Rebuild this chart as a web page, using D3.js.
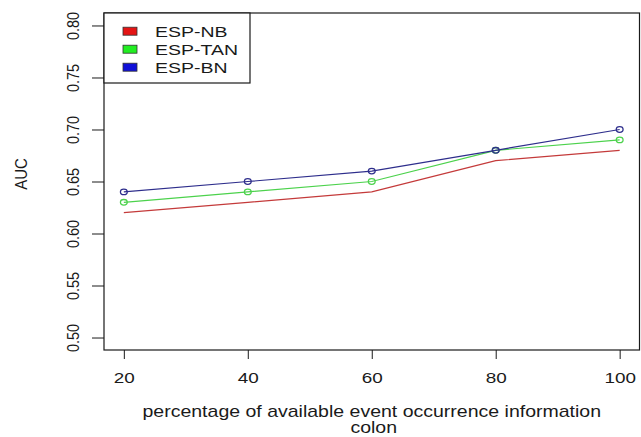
<!DOCTYPE html>
<html>
<head>
<meta charset="utf-8">
<script src="https://cdn.jsdelivr.net/npm/d3@7"></script>
<style>
  html, body { margin: 0; padding: 0; background: #fff; }
  svg { display: block; font-family: "Liberation Sans", Arial, sans-serif; }
</style>
</head>
<body>
<svg id="chart" width="641" height="437"></svg>
<script>
// Data
const percentages = [20, 40, 60, 80, 100];
const espNB = [0.62, 0.63, 0.64, 0.67, 0.68];
const espTAN = [0.63, 0.64, 0.65, 0.68, 0.69];
const espBN = [0.64, 0.65, 0.66, 0.68, 0.70];
const xTicks = [20, 40, 60, 80, 100];
const yTicks = [0.50, 0.55, 0.60, 0.65, 0.70, 0.75, 0.80];
const seriesNames = ["ESP-NB", "ESP-TAN", "ESP-BN"];

// Styling config
const CONFIG = {
  box: { left: 104, right: 639.5, top: 13, bottom: 350 },
  stretch: 1.22, // glyphs are drawn a bit wide
  ink: "#1a1a1a",
  series: [
    { name: seriesNames[0], values: espNB, line: "#c43a3a", fill: "#e41414", points: false },
    { name: seriesNames[1], values: espTAN, line: "#4cd24c", fill: "#22ee22", points: true },
    { name: seriesNames[2], values: espBN, line: "#2e2e8c", fill: "#1010d8", points: true },
  ],
};

const svg = d3.select("#chart");
const box = CONFIG.box;

svg.append("rect").attr("width", 641).attr("height", 437).attr("fill", "#fff");

// R-style 4% padding around the data range
const x = d3.scaleLinear().domain([16.8, 103.2]).range([box.left, box.right]);
const y = d3.scaleLinear().domain([0.488, 0.812]).range([box.bottom, box.top]);

// X axis
const xAxis = svg.append("g")
  .attr("transform", `translate(0,${box.bottom})`)
  .call(d3.axisBottom(x).tickValues(xTicks).tickSize(9).tickSizeOuter(0).tickFormat(d3.format("d")));
xAxis.select(".domain").remove();
xAxis.selectAll(".tick line").attr("stroke", CONFIG.ink);
xAxis.selectAll(".tick text")
  .attr("y", null).attr("dy", null)
  .attr("fill", CONFIG.ink)
  .attr("font-size", 15.5)
  .attr("transform", `translate(0,32.5) scale(${CONFIG.stretch},1)`);

// Y axis
const yAxis = svg.append("g")
  .attr("transform", `translate(${box.left},0)`)
  .call(d3.axisLeft(y).tickValues(yTicks).tickSize(12).tickSizeOuter(0).tickFormat(d3.format(".2f")));
yAxis.select(".domain").remove();
yAxis.selectAll(".tick line").attr("stroke", CONFIG.ink);
yAxis.selectAll(".tick text")
  .attr("x", null).attr("dy", null)
  .attr("fill", CONFIG.ink)
  .attr("font-size", 14.5)
  .attr("text-anchor", "middle")
  .attr("transform", "translate(-25,0) rotate(-90) scale(1,1.08)");

// Axis titles
svg.append("text")
  .attr("transform", `translate(26.5,174) rotate(-90) scale(1,1.1)`)
  .attr("text-anchor", "middle")
  .attr("font-size", 15)
  .attr("fill", CONFIG.ink)
  .text("AUC");

const xTitle = svg.append("g").attr("transform", `translate(${(box.left + box.right) / 2},0)`);
xTitle.append("text")
  .attr("transform", `translate(0,416.5) scale(${CONFIG.stretch},1)`)
  .attr("text-anchor", "middle")
  .attr("font-size", 16)
  .attr("fill", CONFIG.ink)
  .text("percentage of available event occurrence information");
xTitle.append("text")
  .attr("transform", `translate(2,433) scale(${CONFIG.stretch},1)`)
  .attr("text-anchor", "middle")
  .attr("font-size", 16)
  .attr("fill", CONFIG.ink)
  .text("colon");

// Series lines and points
const line = d3.line()
  .x((d, i) => x(percentages[i]))
  .y((d) => y(d));

CONFIG.series.forEach((s) => {
  svg.append("path")
    .datum(s.values)
    .attr("d", line)
    .attr("fill", "none")
    .attr("stroke", s.line)
    .attr("stroke-width", 1.2);

  if (s.points) {
    svg.selectAll(null)
      .data(s.values)
      .join("ellipse")
      .attr("cx", (d, i) => x(percentages[i]))
      .attr("cy", (d) => y(d))
      .attr("rx", 3.4)
      .attr("ry", 2.8)
      .attr("fill", "none")
      .attr("stroke", s.line)
      .attr("stroke-width", 1.3);
  }
});

// Plot frame
svg.append("rect")
  .attr("x", box.left).attr("y", box.top)
  .attr("width", box.right - box.left).attr("height", box.bottom - box.top)
  .attr("fill", "none")
  .attr("stroke", CONFIG.ink)
  .attr("stroke-width", 1.2);

// Legend
const legend = svg.append("g");
legend.append("rect")
  .attr("x", box.left).attr("y", box.top)
  .attr("width", 146).attr("height", 70)
  .attr("fill", "#fff")
  .attr("stroke", CONFIG.ink)
  .attr("stroke-width", 1.2);

CONFIG.series.forEach((s, i) => {
  const cy = 31.2 + i * 18;
  legend.append("rect")
    .attr("x", 123).attr("y", cy - 4)
    .attr("width", 14).attr("height", 8)
    .attr("fill", s.fill)
    .attr("stroke", "#333")
    .attr("stroke-width", 0.8);
  legend.append("text")
    .attr("transform", `translate(155,${cy + 6}) scale(1.3,1)`)
    .attr("font-size", 15)
    .attr("fill", CONFIG.ink)
    .text(s.name);
});
</script>
</body>
</html>
